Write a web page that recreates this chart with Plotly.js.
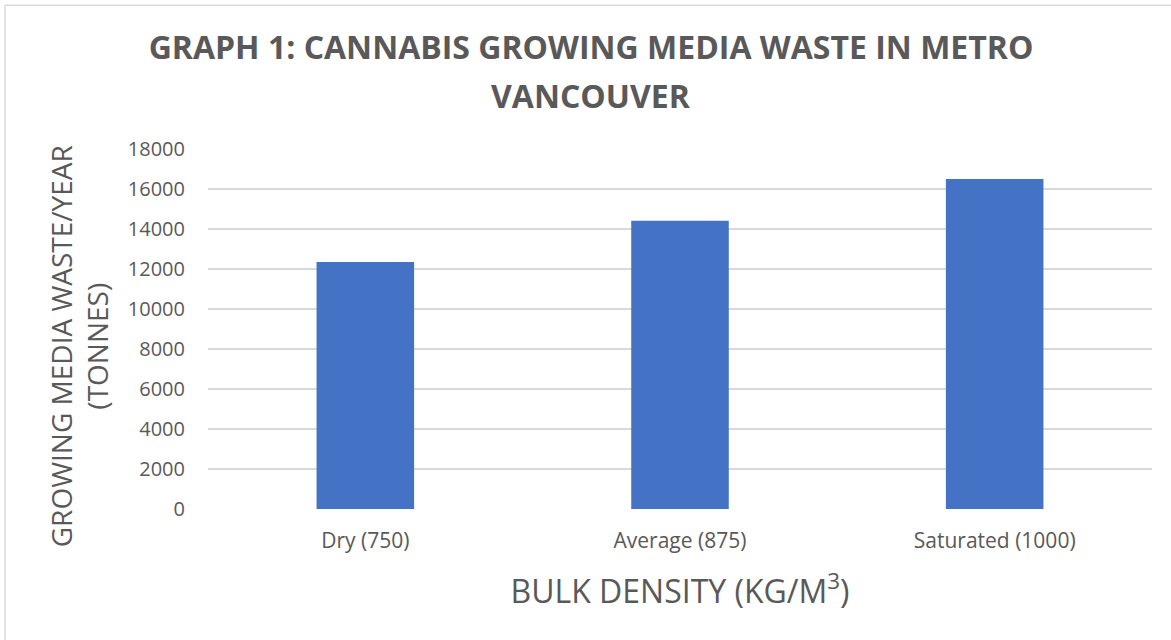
<!DOCTYPE html>
<html>
<head>
<meta charset="utf-8">
<script src="https://cdn.plot.ly/plotly-3.0.1.min.js"></script>
<style>html,body{margin:0;padding:0;background:#fff;}#chart{width:1171px;height:640px;}</style>
</head>
<body>
<div id="chart"></div>
<script>
const categories = ["Dry (750)", "Average (875)", "Saturated (1000)"];
const wasteTonnes = [12350, 14415, 16500];
const yTicks = [0, 2000, 4000, 6000, 8000, 10000, 12000, 14000, 16000, 18000];
const titleLines = ["GRAPH 1: CANNABIS GROWING MEDIA WASTE IN METRO", "VANCOUVER"];
const yTitleLines = ["GROWING MEDIA WASTE/YEAR", "(TONNES)"];

const gray = "#595959";
const font = "Open Sans, sans-serif";

const data = [{
  type: "bar",
  x: categories,
  y: wasteTonnes,
  marker: {color: "#4472c4"},
  hoverinfo: "x+y"
}];

const layout = {
  width: 1171, height: 640,
  margin: {l: 208, r: 19, t: 149, b: 130.5},
  paper_bgcolor: "#fff", plot_bgcolor: "#fff",
  bargap: 0.69,
  showlegend: false,
  title: {
    text: "<b>" + titleLines[0] + "</b>",
    font: {family: font, size: 32, color: gray},
    x: 0.5047, xanchor: "center", y: 0.925, yanchor: "middle"
  },
  xaxis: {
    type: "category",
    tickfont: {family: font, size: 21, color: gray},
    showgrid: false, zeroline: false, showline: false,
    ticks: "", ticklabelstandoff: 17,
    title: {text: "BULK DENSITY (KG/M<sup>3</sup>)", font: {family: font, size: 32, color: gray}, standoff: 27}
  },
  yaxis: {
    range: [0, 18000],
    tickvals: yTicks,
    ticktext: yTicks.map(String),
    tickfont: {family: font, size: 20, color: gray},
    showgrid: true, gridcolor: "#d9d9d9", gridwidth: 1.3,
    zeroline: false, showline: false, ticks: "",
    ticklabelstandoff: 22
  },
  annotations: [
    {text: "<b>" + titleLines[1] + "</b>", xref: "paper", yref: "paper",
     x: 0.4057, y: 1.1498, xanchor: "center", yanchor: "middle", showarrow: false,
     font: {family: font, size: 32, color: gray}},
    {text: yTitleLines.join("<br>"), textangle: -90, xref: "paper", yref: "paper",
     x: -0.1367, y: 0.452, xanchor: "center", yanchor: "middle", showarrow: false,
     align: "center", font: {family: font, size: 28, color: gray}}
  ],
  shapes: [
    {type: "line", xref: "paper", yref: "paper", x0: -0.215, x1: -0.215, y0: -0.37, y1: 1.3994, line: {color: "#d9d9d9", width: 1.5}},
    {type: "line", xref: "paper", yref: "paper", x0: -0.215, x1: 1.03, y0: 1.3994, y1: 1.3994, line: {color: "#d9d9d9", width: 1.5}}
  ]
};

Plotly.newPlot("chart", data, layout, {displayModeBar: false, staticPlot: true});
</script>
</body>
</html>
